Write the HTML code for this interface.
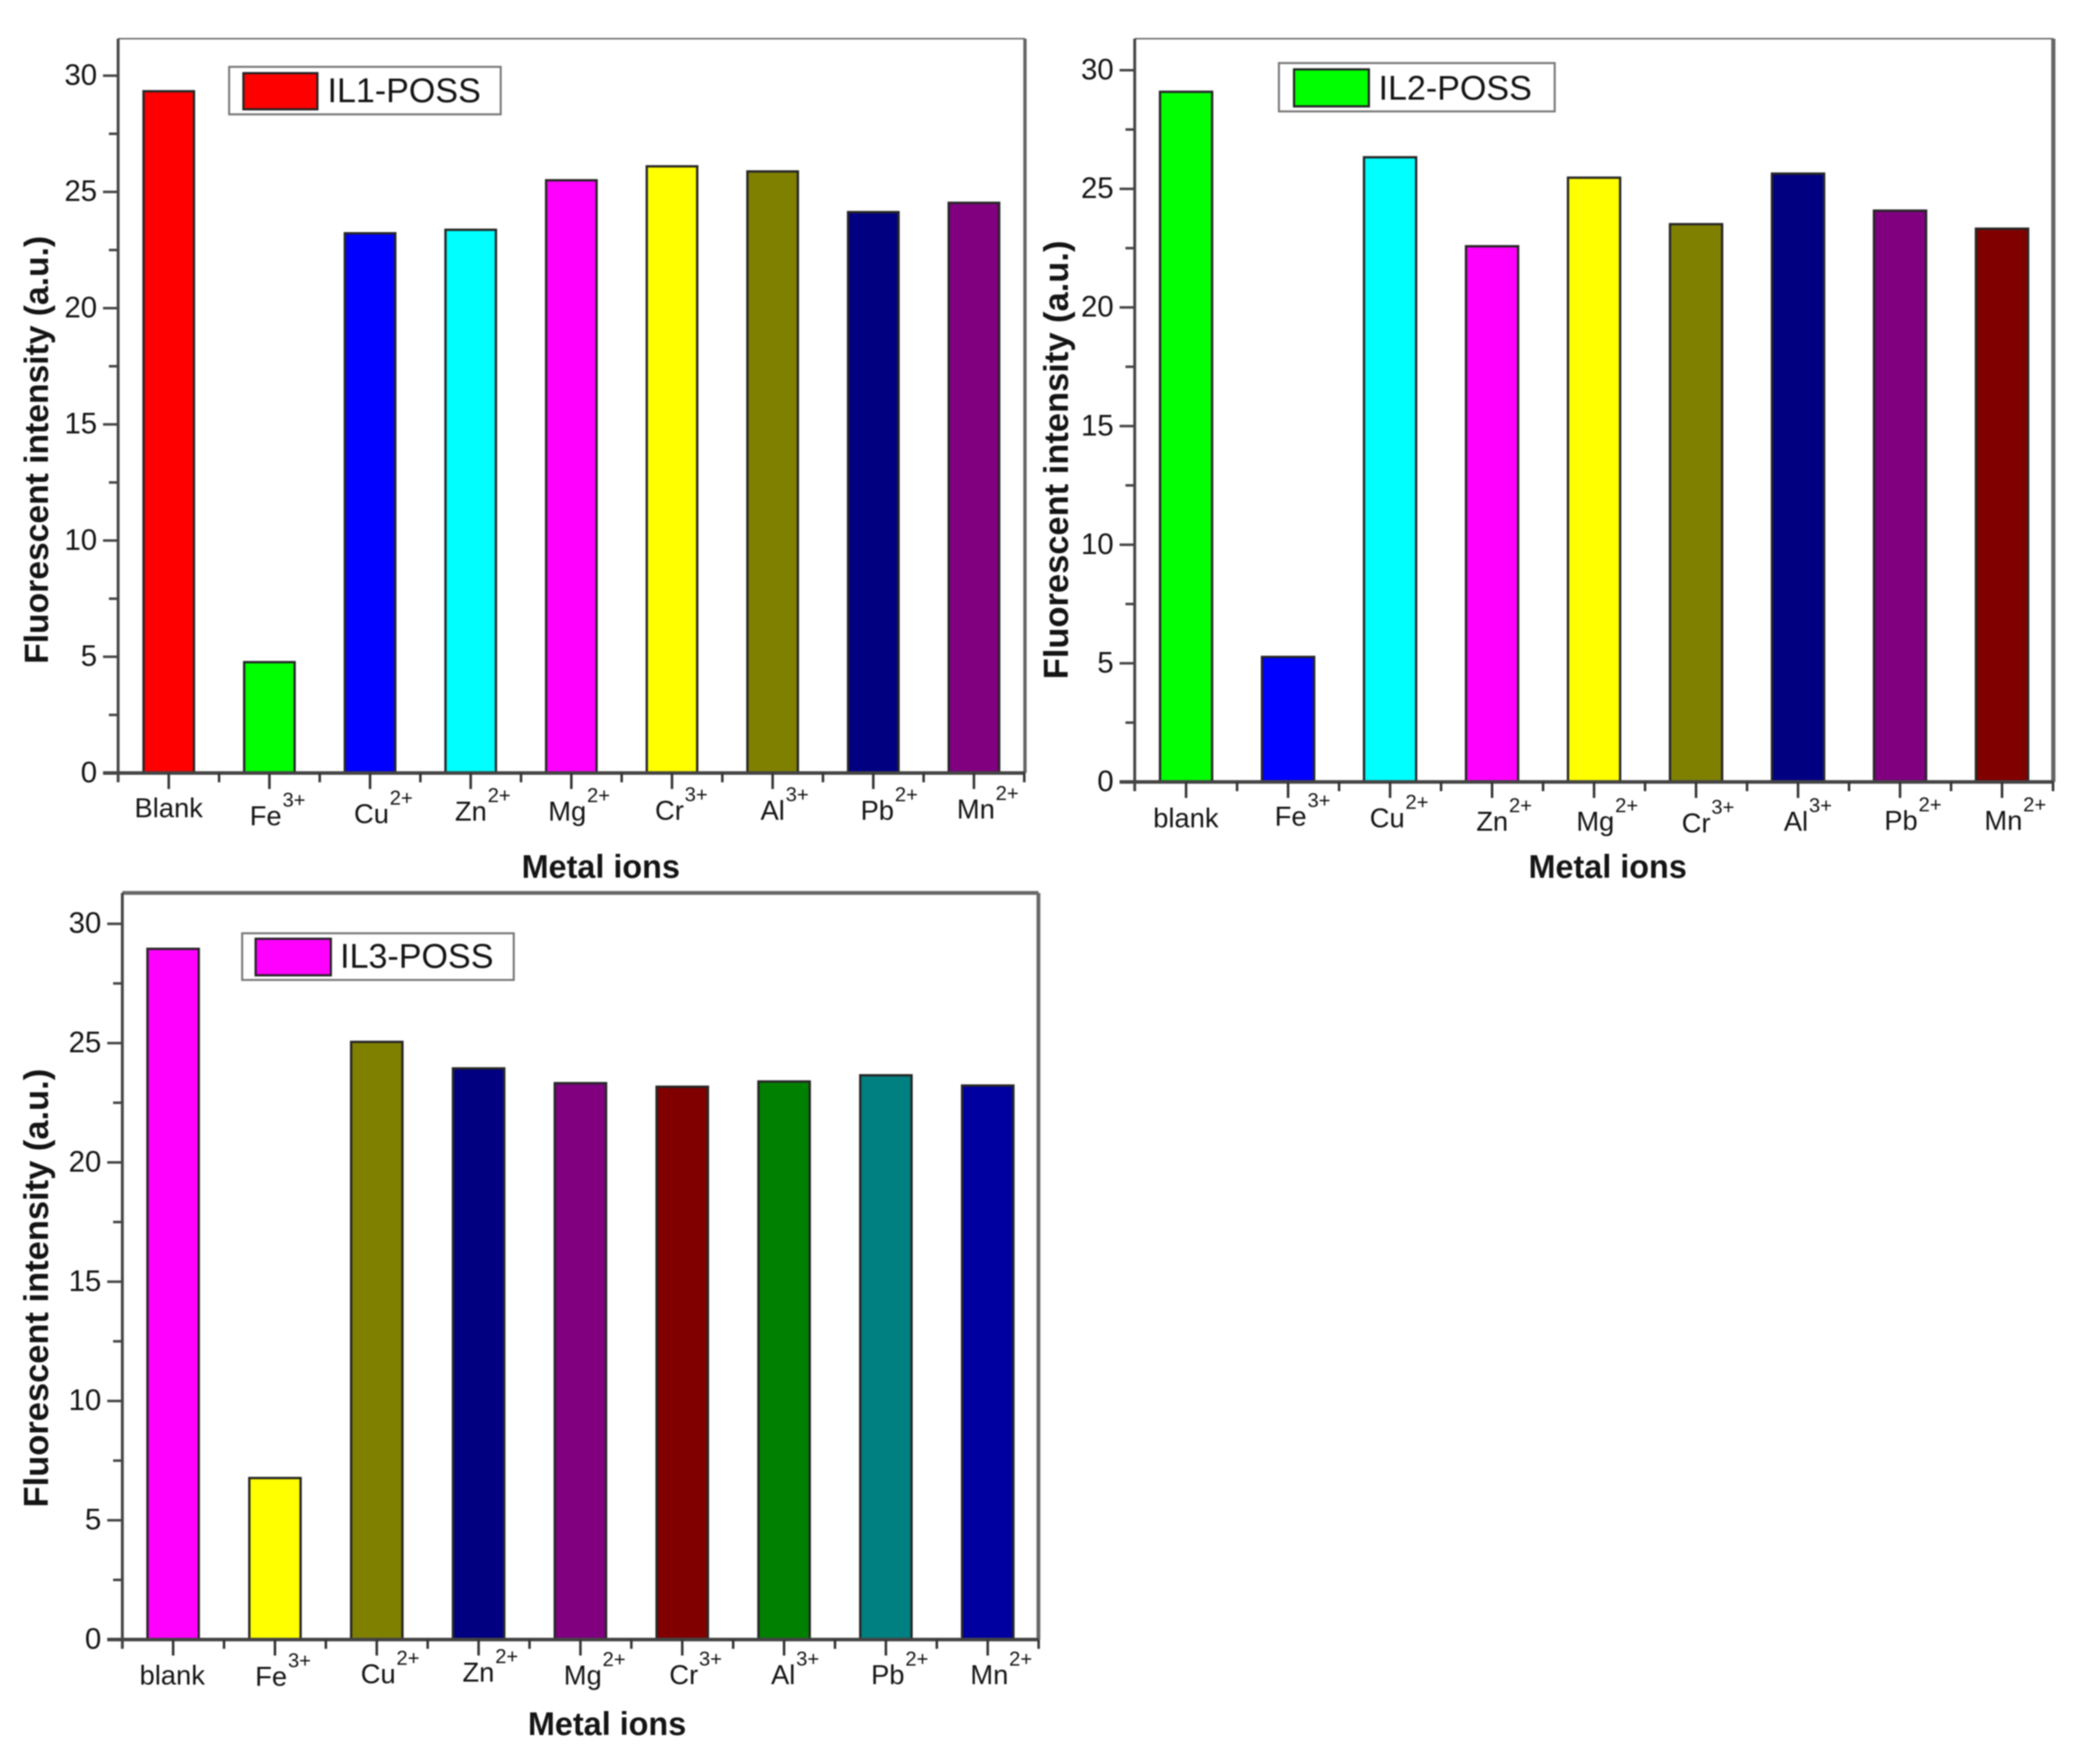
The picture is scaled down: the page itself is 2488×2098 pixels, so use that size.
<!DOCTYPE html>
<html lang="en">
<head>
<meta charset="utf-8">
<title>Fluorescent intensity of IL-POSS with metal ions</title>
<style>
html,body{margin:0;padding:0;background:#fff;width:2488px;height:2098px;overflow:hidden}
svg{display:block;filter:blur(.7px)}
text{font-family:"Liberation Sans",sans-serif;fill:#141414}
</style>
</head>
<body>
<svg id="figure" xmlns="http://www.w3.org/2000/svg" width="2488" height="2098" viewBox="0 0 2488 2098"></svg>
<script>
// ---- data ----
const categories1 = ["Blank", "Fe", "Cu", "Zn", "Mg", "Cr", "Al", "Pb", "Mn"];
const categories2 = ["blank", "Fe", "Cu", "Zn", "Mg", "Cr", "Al", "Pb", "Mn"];
const categories3 = ["blank", "Fe", "Cu", "Zn", "Mg", "Cr", "Al", "Pb", "Mn"];
const charges = ["", "3+", "2+", "2+", "2+", "3+", "3+", "2+", "2+"];
const values1 = [29.33, 4.77, 23.22, 23.37, 25.5, 26.1, 25.88, 24.13, 24.53];
const values2 = [29.09, 5.27, 26.33, 22.58, 25.47, 23.51, 25.64, 24.08, 23.32];
const values3 = [28.95, 6.77, 25.05, 23.94, 23.32, 23.17, 23.39, 23.65, 23.22];
const yTicks = [0, 5, 10, 15, 20, 25, 30];
const yMinorTicks = [2.5, 7.5, 12.5, 17.5, 22.5, 27.5];
const colors1 = ["#ff0000", "#00ff00", "#0000ff", "#00ffff", "#ff00ff", "#ffff00", "#808000", "#000080", "#800080"];
const colors2 = ["#00ff00", "#0000ff", "#00ffff", "#ff00ff", "#ffff00", "#808000", "#000080", "#800080", "#800000"];
const colors3 = ["#ff00ff", "#ffff00", "#808000", "#000080", "#800080", "#800000", "#008000", "#008080", "#0000a0"];

// ---- layout (frame geometry and hand-placed label nudges, not data) ----
const layouts = [
  {key: "il1", name: "IL1-POSS", legendColor: "#ff0000", cats: categories1, vals: values1, cols: colors1,
   left: 140.5, right: 1219, top: 46, base: 919.4, y30: 90, first: 200.7, step: 119.7, barW: 60,
   topW: 1.8, rightW: 4,
   labelLeft: [160, 297, 421, 541, 652, 779, 904.5, 1023.5, 1138],
   labelBase: [972, 981.5, 979, 976, 976, 975, 975, 975, 973.5],
   box: [272.5, 79.5, 323, 56.5], swatch: [289.5, 87, 88, 43], legendText: [389.5, 121.5],
   yTitleSize: 40, yTitleX: 57, yTitleMid: 535, xTitleX: 714.5, xTitleY: 1044},
  {key: "il2", name: "IL2-POSS", legendColor: "#00ff00", cats: categories2, vals: values2, cols: colors2,
   left: 1349.5, right: 2442, top: 46, base: 930, y30: 83.5, first: 1410.6, step: 121.3, barW: 62,
   topW: 1.8, rightW: 5,
   labelLeft: [1371.5, 1516, 1629, 1755.7, 1874.7, 2000, 2121.5, 2241, 2360],
   labelBase: [984, 982, 984, 988, 988, 990, 988, 987, 987],
   box: [1521, 75, 328, 57.5], swatch: [1539, 82.5, 89, 44], legendText: [1639.5, 118.5],
   yTitleSize: 41, yTitleX: 1270, yTitleMid: 547, xTitleX: 1912, xTitleY: 1044},
  {key: "il3", name: "IL3-POSS", legendColor: "#ff00ff", cats: categories3, vals: values3, cols: colors3,
   left: 145.5, right: 1235, top: 1062, base: 1950, y30: 1098.7, first: 205.9, step: 121.1, barW: 61,
   topW: 4.5, rightW: 4.5,
   labelLeft: [166, 303.5, 429, 550, 670.5, 796, 917, 1036, 1154],
   labelBase: [2003.5, 2005, 2002, 2000, 2003.5, 2003, 2003, 2003, 2003],
   box: [288, 1110, 323, 55.5], swatch: [304, 1116.5, 89.5, 43.5], legendText: [404.5, 1151],
   yTitleSize: 41, yTitleX: 57, yTitleMid: 1532, xTitleX: 722, xTitleY: 2063.5}
];

const SVGNS = "http://www.w3.org/2000/svg";
const figure = document.getElementById("figure");

function make(parent, tag, attrs, content) {
  const el = document.createElementNS(SVGNS, tag);
  for (const k in attrs) el.setAttribute(k, attrs[k]);
  if (content !== undefined) el.textContent = content;
  parent.appendChild(el);
  return el;
}

function drawChart(c) {
  const yScale = v => c.base + (c.y30 - c.base) * v / 30;
  const xScale = i => c.first + c.step * i;
  const axisColor = "#444";

  const g = make(figure, "g", {});
  
  

  // bars
  c.vals.forEach((v, i) => {
    const bar = make(g, "rect", {
      x: xScale(i) - c.barW / 2, y: yScale(v), width: c.barW, height: c.base - yScale(v),
      fill: c.cols[i], stroke: "#262626", "stroke-width": 2.8
    });
    
    
  });

  // frame
  const frameTop = make(g, "line", {x1: c.left, x2: c.right, y1: c.top, y2: c.top, stroke: "#666", "stroke-width": c.topW});
  
  
  const frameRight = make(g, "line", {x1: c.right, x2: c.right, y1: c.top, y2: c.base, stroke: "#666", "stroke-width": c.rightW});
  
  

  // y axis
  const yAxis = make(g, "line", {x1: c.left, x2: c.left, y1: c.top, y2: c.base + 11, stroke: axisColor, "stroke-width": 3.4});
  
  
  yTicks.forEach(t => {
    const tick = make(g, "line", {x1: c.left - 18, x2: c.left, y1: yScale(t), y2: yScale(t), stroke: axisColor, "stroke-width": 3});
    
    
    const label = make(g, "text", {x: c.left - 25, y: yScale(t) + 11, "text-anchor": "end", "font-size": 35}, String(t));
    
    
  });
  yMinorTicks.forEach(t => {
    const tick = make(g, "line", {x1: c.left - 11, x2: c.left, y1: yScale(t), y2: yScale(t), stroke: axisColor, "stroke-width": 3});
    
    
  });

  // x axis
  const xAxis = make(g, "line", {x1: c.left - 18, x2: c.right, y1: c.base, y2: c.base, stroke: axisColor, "stroke-width": 4.2});
  
  
  c.cats.forEach((cat, i) => {
    const tick = make(g, "line", {x1: xScale(i), x2: xScale(i), y1: c.base, y2: c.base + 19, stroke: "#333", "stroke-width": 3});
    
    
    const minor = make(g, "line", {x1: xScale(i) + c.step / 2, x2: xScale(i) + c.step / 2, y1: c.base, y2: c.base + 11, stroke: "#333", "stroke-width": 3});
    
    
    const label = make(g, "text", {x: c.labelLeft[i], y: c.labelBase[i], "font-size": 32.5}, cat);
    
    
    if (charges[i]) {
      make(label, "tspan", {dy: -22, dx: 1, "font-size": 24}, charges[i]);
    }
  });

  // axis titles
  const yTitle = make(g, "text", {
    x: 0, y: 0, "text-anchor": "middle", "font-size": c.yTitleSize, "font-weight": "bold",
    transform: "translate(" + c.yTitleX + " " + c.yTitleMid + ") rotate(-90)"
  }, "Fluorescent intensity (a.u.)");
  
  
  const xTitle = make(g, "text", {x: c.xTitleX, y: c.xTitleY, "text-anchor": "middle", "font-size": 38.5, "font-weight": "bold"}, "Metal ions");
  
  

  // legend
  const legend = make(g, "g", {});
  
  
  make(legend, "rect", {x: c.box[0], y: c.box[1], width: c.box[2], height: c.box[3], fill: "#fff", stroke: "#777", "stroke-width": 2.4});
  make(legend, "rect", {x: c.swatch[0], y: c.swatch[1], width: c.swatch[2], height: c.swatch[3], fill: c.legendColor, stroke: "#222", "stroke-width": 2.6});
  make(legend, "text", {x: c.legendText[0], y: c.legendText[1], "font-size": 40.5}, c.name);
}

layouts.forEach(drawChart);
</script>
</body>
</html>
